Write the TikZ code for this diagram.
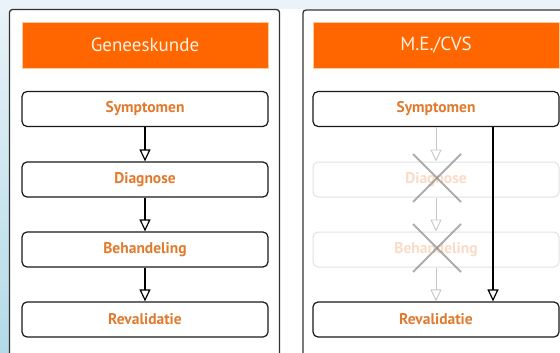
\documentclass[tikz,border=0pt]{standalone}
\usepackage{fontspec}
\setmainfont{PT Sans}
\usetikzlibrary{arrows.meta}
\definecolor{hdr}{HTML}{FF6600}
\definecolor{hdrtxt}{HTML}{FFF1E2}
\definecolor{boxtxt}{HTML}{E27A2E}
\definecolor{fadetxt}{HTML}{F9DCC8}
\definecolor{fadeline}{HTML}{E2E2E2}
\definecolor{bgtop}{HTML}{EAF3F7}
\definecolor{bgbot}{HTML}{B3DAE8}
\tikzset{
  panel/.style={draw=black!80, line width=1.3pt, rounded corners=3pt, fill=white},
  header/.style={fill=hdr, draw=orange!40, line width=0.4pt, minimum width=246pt, minimum height=46pt, inner sep=0pt, text=hdrtxt, font=\fontsize{19}{21}\selectfont},
  stepbox/.style={draw=black!90, line width=1.2pt, rounded corners=5pt, minimum width=246pt, minimum height=35pt, inner sep=0pt, text=boxtxt, font=\fontsize{15.5}{17}\selectfont\bfseries},
  fadebox/.style={draw=fadeline, line width=1pt, rounded corners=5pt, minimum width=246pt, minimum height=35pt, inner sep=0pt, text=fadetxt, font=\fontsize{15.5}{17}\selectfont\bfseries},
  arr/.style={draw=black, line width=1.5pt, -{Triangle[open, length=12pt, width=11pt, line width=1.2pt, fill=white]}},
  fadearr/.style={draw=black!22, line width=1pt, -{Triangle[open, length=12pt, width=11pt, line width=0.9pt, fill=white]}},
  cross/.style={draw=black!45, line width=2pt, opacity=0.7}
}
\begin{document}
\begin{tikzpicture}[x=1pt,y=-1pt]
\useasboundingbox (0,0) rectangle (560,353);
\shade[top color=bgtop, bottom color=bgbot] (0,0) rectangle (560,353);
\fill[bgtop] (0,0) rectangle (560,9);
\fill[white] (9.5,9.5) rectangle (560,353);
\draw[panel] (9.5,400) -- (9.5,9.5) -- (279.5,9.5) -- (279.5,400);
\draw[panel] (303,400) -- (303,10) -- (620,10);
% left column
\node[header] (h1) at (145,45) {Geneeskunde};
\node[stepbox] (s1) at (145,109) {Symptomen};
\node[stepbox] (d1) at (145,179.5) {Diagnose};
\node[stepbox] (b1) at (145,249.5) {Behandeling};
\node[stepbox] (r1) at (145,319.5) {Revalidatie};
\draw[arr] (s1) -- (d1);
\draw[arr] (d1) -- (b1);
\draw[arr] (b1) -- (r1);
% right column
\node[header] (h2) at (436,45) {M.E./CVS};
\node[stepbox] (s2) at (436,109) {Symptomen};
\node[fadebox] (d2) at (436,179.5) {Diagnose};
\node[fadebox] (b2) at (436,249.5) {Behandeling};
\node[stepbox] (r2) at (436,319.5) {Revalidatie};
\draw[fadearr] (s2) -- (d2);
\draw[fadearr] (d2) -- (b2);
\draw[fadearr] (b2) -- (r2);
\coordinate (tx) at (493,0);
\draw[arr] (s2.south -| tx) -- (r2.north -| tx);
\draw[cross] (413,154) -- (461,202);
\draw[cross] (413,202) -- (461,154);
\draw[cross] (413,224) -- (461,272);
\draw[cross] (413,272) -- (461,224);
\end{tikzpicture}
\end{document}
